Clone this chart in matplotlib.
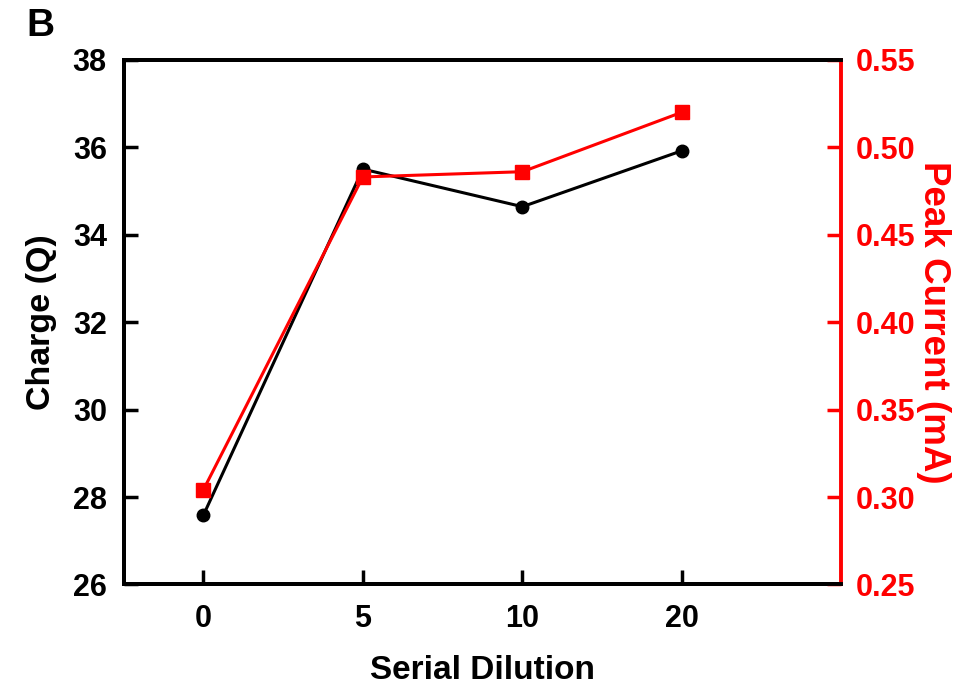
import matplotlib
matplotlib.use('Agg')
import matplotlib.pyplot as plt

plt.rcParams['font.family'] = ['Liberation Sans', 'DejaVu Sans']
plt.rcParams['font.weight'] = 'bold'

dilution = ['0', '5', '10', '20']
charge = [27.58, 35.5, 34.64, 35.92]
peak_current = [0.304, 0.483, 0.486, 0.520]

red = '#ff0000'

fig = plt.figure(figsize=(9.65, 6.95), dpi=100)
ax = fig.add_axes([0.128, 0.159, 0.744, 0.755])
ax2 = ax.twinx()

pos = list(range(len(dilution)))
ax.plot(pos, charge, color='black', lw=2.2, marker='o', ms=9, zorder=3)
ax2.plot(pos, peak_current, color=red, lw=2.2, marker='s', ms=10, zorder=3)

ax.set_xlim(-0.5, 4.0)
ax.set_ylim(26, 38)
ax.set_yticks([26, 28, 30, 32, 34, 36, 38])
ax.set_xticks(pos)
ax.set_xticklabels(dilution)
ax2.set_ylim(0.25, 0.55)
ax2.set_yticks([0.25, 0.30, 0.35, 0.40, 0.45, 0.50, 0.55])
ax2.set_yticklabels(['%.2f' % v for v in ax2.get_yticks()])

for s in ['left', 'bottom', 'top']:
    ax.spines[s].set_linewidth(2.8)
    ax2.spines[s].set_linewidth(2.8)
ax2.spines['right'].set_linewidth(2.8)
ax2.spines['right'].set_color(red)
ax.spines['right'].set_visible(False)

ax.tick_params(axis='both', direction='in', length=10, width=2.5,
               labelsize=22, pad=12)
ax.tick_params(axis='x', pad=14)
ax2.tick_params(axis='y', direction='in', length=10, width=2.5,
                labelsize=22, pad=10, colors=red)

ax.set_xlabel('Serial Dilution', fontsize=24, fontweight='bold', labelpad=15)
ax.set_ylabel('Charge (Q)', fontsize=24.5, fontweight='bold', labelpad=11)
ax2.set_ylabel('Peak Current (mA)', fontsize=26.5, fontweight='bold',
               color=red, rotation=270, labelpad=26)

fig.text(0.027, 0.948, 'B', fontsize=28, fontweight='bold')

fig.savefig('out.png', dpi=100)
